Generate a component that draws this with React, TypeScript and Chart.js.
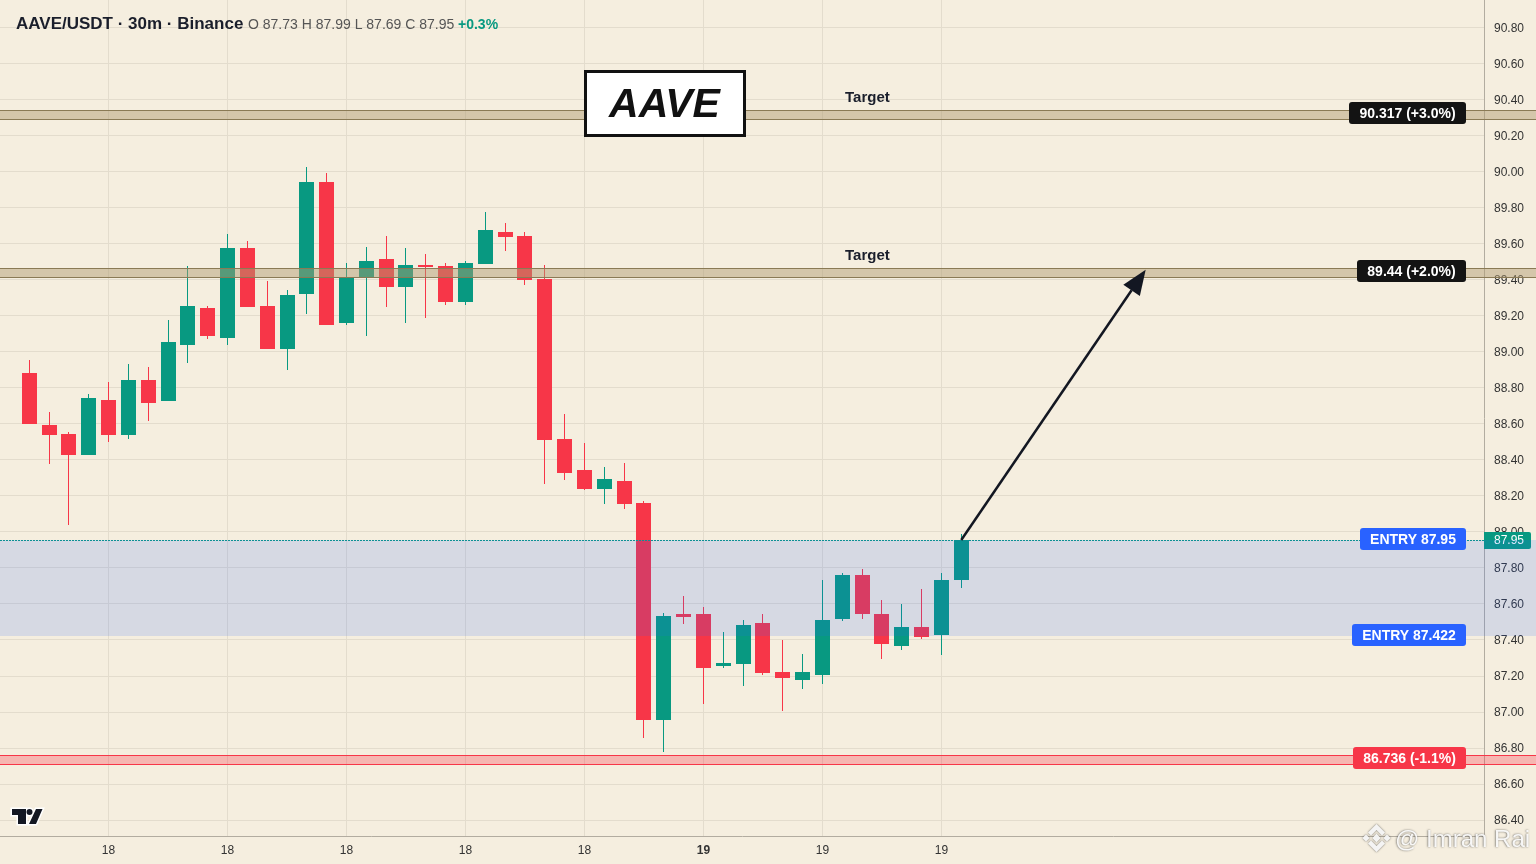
import React, { useEffect, useRef } from "react";
import { Chart, registerables } from "chart.js";

Chart.register(...registerables);

const opens = [88.882,88.593,88.543,88.427,88.732,88.538,88.843,88.726,89.037,89.242,89.076,89.575,89.254,89.015,89.320,89.942,89.159,89.414,89.514,89.359,89.481,89.476,89.276,89.487,89.664,89.642,89.403,88.516,88.343,88.238,88.282,88.160,86.956,87.544,87.544,87.256,87.267,87.495,87.223,87.178,87.206,87.517,87.761,87.544,87.367,87.472,87.428,87.733];
const highs = [88.954,88.665,88.554,88.765,88.832,88.932,88.915,89.176,89.476,89.254,89.653,89.614,89.392,89.342,90.025,89.992,89.492,89.581,89.642,89.575,89.542,89.492,89.503,89.775,89.714,89.664,89.481,88.654,88.493,88.360,88.382,88.171,87.550,87.644,87.583,87.445,87.511,87.544,87.400,87.323,87.733,87.772,87.794,87.622,87.600,87.683,87.772,87.990];
const lows = [88.599,88.377,88.038,88.427,88.499,88.516,88.615,88.726,88.937,89.070,89.037,89.248,89.015,88.898,89.209,89.148,89.148,89.087,89.248,89.159,89.187,89.259,89.259,89.487,89.559,89.370,88.266,88.288,88.233,88.155,88.127,86.856,86.779,87.489,87.045,87.245,87.145,87.206,87.006,87.128,87.156,87.506,87.517,87.295,87.345,87.406,87.317,87.690];
const closes = [88.599,88.538,88.427,88.743,88.538,88.843,88.715,89.054,89.254,89.087,89.575,89.248,89.015,89.315,89.942,89.148,89.414,89.503,89.359,89.481,89.470,89.276,89.492,89.675,89.636,89.398,88.510,88.327,88.238,88.294,88.155,86.956,87.533,87.528,87.245,87.273,87.483,87.217,87.189,87.223,87.511,87.761,87.544,87.378,87.472,87.417,87.733,87.955];

const headerOHLC = ["87.73", "87.99", "87.69", "87.95"];
const headerChange = "+0.3%";

const yTickValues = [86.4,86.6,86.8,87.0,87.2,87.4,87.6,87.8,88.0,88.2,88.4,88.6,88.8,89.0,89.2,89.4,89.6,89.8,90.0,90.2,90.4,90.6,90.8];
const xTickPositions = [4,10,16,22,28,34,40,46];
const xTickLabels = ["18","18","18","18","18","19","19","19"];
const boldXLabelIndex = 5;

const X_MIN = -1.4725;
const X_MAX = 73.36;
const Y_MIN = 86.3122;
const Y_MAX = 90.9515;

const upperTargetBand = [90.285, 90.34];
const lowerTargetBand = [89.41, 89.466];
const entryZone = [87.422, 87.955];
const stopBand = [86.706, 86.762];

const upperTarget = 90.317;
const lowerTarget = 89.44;
const entryHigh = 87.95;
const entryLow = 87.422;
const stopPrice = 86.736;
const lastPrice = 87.95;
const arrowFrom = { x: 47, y: 87.955 };
const arrowTo = { x: 56.3, y: 89.455 };
const targetLabelX = 41.14;

const UP = "#089981";
const DOWN = "#F73648";
const BG = "#F5EEDF";
const GRID = "#E3DCCD";
const AXIS = "#B2ACA0";
const SANS = '"Liberation Sans", Arial, sans-serif';

function pill(ctx: CanvasRenderingContext2D, text: string, cy: number, color: string) {
  ctx.font = `bold 14px ${SANS}`;
  const w = Math.ceil(ctx.measureText(text).width) + 20;
  const right = 1466;
  ctx.fillStyle = color;
  ctx.beginPath();
  ctx.roundRect(right - w, cy - 11, w, 22, 3);
  ctx.fill();
  ctx.fillStyle = "#FFFFFF";
  ctx.textAlign = "center";
  ctx.textBaseline = "alphabetic";
  ctx.fillText(text, right - w / 2, cy + 5);
}

function band(ctx: CanvasRenderingContext2D, y: any, range: number[], fill: string, edge: string | null) {
  const top = Math.round(y.getPixelForValue(range[1]));
  const bottom = Math.round(y.getPixelForValue(range[0]));
  ctx.fillStyle = fill;
  ctx.fillRect(0, top, 1536, bottom - top);
  if (edge) {
    ctx.fillStyle = edge;
    ctx.fillRect(0, top, 1536, 1);
    ctx.fillRect(0, bottom - 1, 1536, 1);
  }
}

function tvLogo(ctx: CanvasRenderingContext2D) {
  const path = new Path2D("M12 809h14v15h-8v-9h-6z M36 809h6.5l-6.5 15h-7z");
  ctx.save();
  ctx.strokeStyle = "#FFFFFF";
  ctx.lineWidth = 3;
  ctx.lineJoin = "miter";
  ctx.stroke(path);
  ctx.beginPath();
  ctx.arc(29.5, 812, 3, 0, Math.PI * 2);
  ctx.stroke();
  ctx.fillStyle = "#131722";
  ctx.fill(path);
  ctx.beginPath();
  ctx.arc(29.5, 812, 3, 0, Math.PI * 2);
  ctx.fill();
  ctx.restore();
}

function watermark(ctx: CanvasRenderingContext2D) {
  ctx.save();
  ctx.shadowColor = "rgba(40,40,40,0.75)";
  ctx.shadowBlur = 2;
  ctx.fillStyle = "rgba(255,255,255,0.92)";
  const cx = 1376.5;
  const cy = 838;
  const diamond = (x: number, y: number, r: number) => {
    ctx.beginPath();
    ctx.moveTo(x, y - r);
    ctx.lineTo(x + r, y);
    ctx.lineTo(x, y + r);
    ctx.lineTo(x - r, y);
    ctx.closePath();
    ctx.fill();
  };
  diamond(cx, cy, 4.2);
  diamond(cx - 10.5, cy, 3.6);
  diamond(cx + 10.5, cy, 3.6);
  const chevron = (s: number) => {
    ctx.beginPath();
    ctx.moveTo(cx, cy + s * 14);
    ctx.lineTo(cx + 8.5, cy + s * 5.5);
    ctx.lineTo(cx + 5.5, cy + s * 2.5);
    ctx.lineTo(cx, cy + s * 8);
    ctx.lineTo(cx - 5.5, cy + s * 2.5);
    ctx.lineTo(cx - 8.5, cy + s * 5.5);
    ctx.closePath();
    ctx.fill();
  };
  chevron(-1);
  chevron(1);
  ctx.font = `24px ${SANS}`;
  ctx.textAlign = "left";
  ctx.textBaseline = "alphabetic";
  ctx.shadowOffsetX = -0.5;
  ctx.fillText("@ Imran Rai", 1395, 847);
  ctx.restore();
}

const tradingPlugin = {
  id: "tradingOverlay",
  beforeDraw(chart: any) {
    const { ctx, width, height } = chart;
    ctx.save();
    ctx.fillStyle = BG;
    ctx.fillRect(0, 0, width, height);
    ctx.restore();
    // The price labels sit one pixel below their grid lines.
    chart.scales.y.getLabelItems(chart.chartArea).forEach((item: any) => {
      if (!item.__shifted) {
        item.options.translation[1] += 1;
        item.__shifted = true;
      }
    });
  },
  beforeDatasetsDraw(chart: any) {
    chart.data.datasets.forEach((_: any, i: number) => {
      chart.getDatasetMeta(i).data.forEach((el: any) => {
        el.x = Math.floor(el.x) + 0.5;
        el.y = Math.round(el.y);
        el.base = Math.round(el.base);
      });
    });
  },
  afterDraw(chart: any) {
    const { ctx } = chart;
    const x = chart.scales.x;
    const y = chart.scales.y;
    ctx.save();

    const lastY = Math.floor(y.getPixelForValue(lastPrice));

    // last price dotted line
    ctx.strokeStyle = UP;
    ctx.lineWidth = 1;
    ctx.setLineDash([2, 1]);
    ctx.beginPath();
    ctx.moveTo(0, lastY + 0.5);
    ctx.lineTo(1484, lastY + 0.5);
    ctx.stroke();
    ctx.setLineDash([]);

    // last price tag
    ctx.fillStyle = UP;
    ctx.beginPath();
    ctx.roundRect(1484, lastY - 8, 47, 17, [0, 2, 2, 0]);
    ctx.fill();
    ctx.fillStyle = "#FFFFFF";
    ctx.font = `12px ${SANS}`;
    ctx.textAlign = "left";
    ctx.textBaseline = "middle";
    ctx.fillText(lastPrice.toFixed(2), 1494, lastY + 1);

    // zones
    band(ctx, y, upperTargetBand, "rgba(175,155,112,0.48)", "#8A7A55");
    band(ctx, y, lowerTargetBand, "rgba(175,155,112,0.48)", "#8A7A55");
    band(ctx, y, entryZone, "rgba(41,98,255,0.15)", null);
    band(ctx, y, stopBand, "rgba(247,54,72,0.3)", DOWN);

    // target captions
    ctx.fillStyle = "#1A1E2B";
    ctx.font = `bold 15px ${SANS}`;
    ctx.textAlign = "left";
    ctx.textBaseline = "alphabetic";
    const labelX = x.getPixelForValue(targetLabelX);
    ctx.fillText("Target", labelX, y.getPixelForValue(upperTargetBand[1]) - 8);
    ctx.fillText("Target", labelX, y.getPixelForValue(lowerTargetBand[1]) - 8);

    // arrow
    const ax = x.getPixelForValue(arrowFrom.x);
    const ay = y.getPixelForValue(arrowFrom.y);
    const bx = x.getPixelForValue(arrowTo.x);
    const by = y.getPixelForValue(arrowTo.y);
    const ang = Math.atan2(by - ay, bx - ax);
    const headLen = 25;
    const headHalf = 10;
    const hx = bx - Math.cos(ang) * headLen;
    const hy = by - Math.sin(ang) * headLen;
    ctx.strokeStyle = "#131722";
    ctx.lineWidth = 2.5;
    ctx.beginPath();
    ctx.moveTo(ax, ay);
    ctx.lineTo(hx, hy);
    ctx.stroke();
    ctx.fillStyle = "#131722";
    ctx.beginPath();
    ctx.moveTo(bx, by);
    ctx.lineTo(hx + Math.sin(ang) * headHalf, hy - Math.cos(ang) * headHalf);
    ctx.lineTo(hx - Math.sin(ang) * headHalf, hy + Math.cos(ang) * headHalf);
    ctx.closePath();
    ctx.fill();

    // title box
    ctx.fillStyle = "#FFFFFF";
    ctx.fillRect(584, 70, 162, 67);
    ctx.strokeStyle = "#111111";
    ctx.lineWidth = 3;
    ctx.strokeRect(585.5, 71.5, 159, 64);
    ctx.fillStyle = "#111111";
    ctx.font = `italic bold 41px ${SANS}`;
    ctx.textAlign = "center";
    ctx.textBaseline = "alphabetic";
    ctx.fillText("AAVE", 664.5, 117);

    // price pills
    const cyOf = (v: number) => Math.round(y.getPixelForValue(v) - 1.5);
    pill(ctx, `${upperTarget} (+3.0%)`, cyOf(upperTarget), "#131313");
    pill(ctx, `${lowerTarget} (+2.0%)`, cyOf(lowerTarget), "#131313");
    pill(ctx, `ENTRY ${entryHigh}`, cyOf(entryHigh), "#2962FF");
    pill(ctx, `ENTRY ${entryLow}`, cyOf(entryLow), "#2962FF");
    pill(ctx, `${stopPrice} (-1.1%)`, cyOf(stopPrice), DOWN);

    // header
    ctx.textAlign = "left";
    ctx.textBaseline = "alphabetic";
    ctx.font = `bold 17px ${SANS}`;
    ctx.fillStyle = "#1A1E2B";
    ctx.fillText("AAVE/USDT · 30m · Binance", 16, 29);
    ctx.font = `14px ${SANS}`;
    ctx.fillStyle = "#555555";
    const [o, h, l, c] = headerOHLC;
    ctx.fillText(`O ${o} H ${h} L ${l} C ${c}`, 248, 29);
    ctx.font = `bold 14px ${SANS}`;
    ctx.fillStyle = UP;
    ctx.fillText(headerChange, 458, 29);

    tvLogo(ctx);
    watermark(ctx);
    ctx.restore();
  },
};

export default function App() {
  const ref = useRef<HTMLCanvasElement | null>(null);

  useEffect(() => {
    document.body.style.margin = "0";
    document.body.style.overflow = "hidden";
    const colors = opens.map((o, i) => (closes[i] >= o ? UP : DOWN));
    const chart = new Chart(ref.current as HTMLCanvasElement, {
      type: "bar",
      data: {
        datasets: [
          {
            label: "Wick",
            data: opens.map((_, i) => ({ x: i, y: [lows[i], highs[i]] })),
            backgroundColor: colors,
            barThickness: 1,
            grouped: false,
            order: 2,
            borderSkipped: false,
            inflateAmount: 0,
          },
          {
            label: "Body",
            data: opens.map((o, i) => ({ x: i, y: [o, closes[i]] })),
            backgroundColor: colors,
            barThickness: 15,
            grouped: false,
            order: 1,
            borderSkipped: false,
            inflateAmount: 0,
          },
        ] as any,
      },
      options: {
        animation: false,
        responsive: false,
        devicePixelRatio: 1,
        layout: { padding: 0 },
        plugins: { legend: { display: false }, tooltip: { enabled: false }, title: { display: false } },
        scales: {
          x: {
            type: "linear",
            min: X_MIN,
            max: X_MAX,
            offset: false,
            grid: { color: GRID, lineWidth: 1, drawTicks: false, offset: false },
            border: { display: true, color: AXIS, width: 1 },
            afterBuildTicks: (s: any) => {
              s.ticks = xTickPositions.map((value) => ({ value }));
            },
            afterFit: (s: any) => {
              s.height = 28;
              s.paddingLeft = 0;
              s.paddingRight = 0;
            },
            ticks: {
              autoSkip: false,
              maxRotation: 0,
              padding: 7,
              includeBounds: false,
              color: "#333333",
              font: (ctx: any) =>
                ctx.index === boldXLabelIndex
                  ? { family: SANS, size: 12, weight: "bold" }
                  : { family: SANS, size: 12 },
              callback: (_v: any, i: number) => xTickLabels[i],
            },
          },
          y: {
            type: "linear",
            position: "right",
            min: Y_MIN,
            max: Y_MAX,
            grid: { color: GRID, lineWidth: 1, drawTicks: false },
            border: { display: true, color: AXIS, width: 1 },
            afterBuildTicks: (s: any) => {
              s.ticks = yTickValues.map((value) => ({ value }));
            },
            afterFit: (s: any) => {
              s.width = 52;
              s.paddingTop = 0;
              s.paddingBottom = 0;
            },
            ticks: {
              autoSkip: false,
              padding: 10,
              includeBounds: false,
              color: "#333333",
              font: { family: SANS, size: 12 },
              callback: (v: any) => Number(v).toFixed(2),
            },
          },
        },
      } as any,
      plugins: [tradingPlugin],
    } as any);
    return () => chart.destroy();
  }, []);

  return <canvas ref={ref} width={1536} height={864} style={{ display: "block", width: 1536, height: 864 }} />;
}
